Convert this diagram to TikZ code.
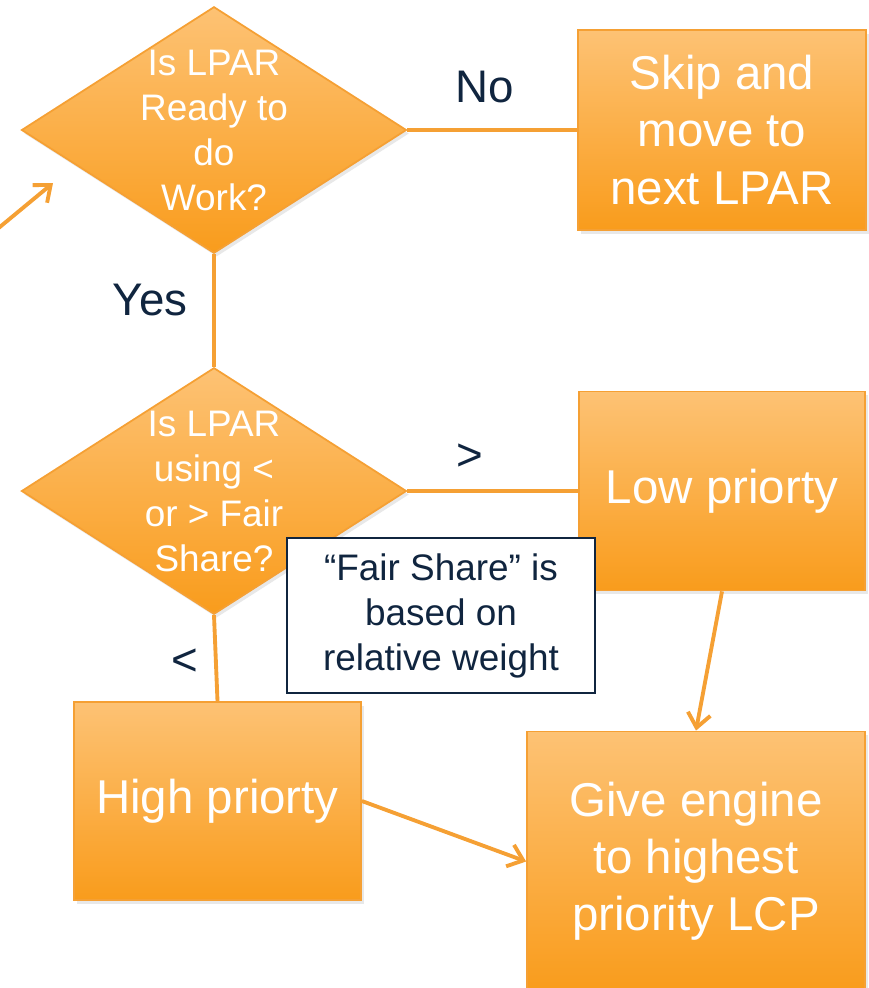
\documentclass[tikz,border=0pt]{standalone}
\usepackage{fontspec}
\setmainfont{Liberation Sans}
\usetikzlibrary{positioning,shapes.geometric,arrows.meta,shadows}
\definecolor{orTop}{HTML}{FDC274}
\definecolor{orBot}{HTML}{F99C1C}
\definecolor{orLine}{HTML}{F5A034}
\definecolor{navy}{HTML}{10253F}
\begin{document}
\begin{tikzpicture}[
    on grid,>={Straight Barb[length=8pt,width=13pt]},
    flowshade/.style={draw=orLine,line width=1pt,top color=orTop,bottom color=orBot,
        drop shadow={shadow xshift=1.5pt,shadow yshift=-2pt,opacity=.18}},
    decision/.style={diamond,flowshade,inner sep=0pt,minimum width=7.7cm,minimum height=4.93cm},
    dtext/.style={text=white,align=center,font=\fontsize{21}{25.6}\selectfont},
    stepbox/.style={rectangle,flowshade,text=white,align=center,font=\fontsize{27}{32.5}\selectfont},
    notebox/.style={draw=navy,line width=1.1pt,fill=white,text=navy,align=center,
        minimum width=6.16cm,minimum height=3.1cm,font=\fontsize{21}{25.6}\selectfont},
    tag/.style={text=navy,font=\fontsize{26}{30}\selectfont},
    link/.style={draw=orLine,line width=2.2pt}
]
    \useasboundingbox (0,0) rectangle (17.38,-19.76);
    %Decisions
    \node[decision,label={[dtext]center:Is LPAR\\Ready to\\do\\Work?}] (ready) at (4.28,-2.6) {};
    \node[decision,below=7.22cm of ready,label={[dtext]center:Is LPAR\\using <\\or > Fair\\Share?}] (share) {};
    %Boxes
    \node[stepbox,right=10.16cm of ready,minimum width=5.76cm,minimum height=4cm] (skip) {Skip and\\move to\\next LPAR};
    \node[stepbox,right=10.16cm of share,minimum width=5.72cm,minimum height=3.98cm] (low) {Low priorty};
    \node[stepbox,below right=6.2cm and 0.07cm of share,minimum width=5.74cm,minimum height=3.96cm] (high) {High priorty};
    \node[stepbox,below left=7.41cm and 0.52cm of low,minimum width=6.76cm,minimum height=5.2cm] (give) {Give engine\\to highest\\priority LCP};
    %Links
    \coordinate (entry) at (-0.1,-4.62);
    \draw[link,->] (entry) -- (1.06,-3.66);
    \draw[link] (ready) -- (skip);
    \draw[link] (ready) -- (share);
    \draw[link] (share) -- (low);
    \draw[link] (share.south) -- (high.north);
    \draw[link,->] (low.south) -- (give.north);
    \draw[link,->] (high.east) -- (give.west);
    %Note and tags
    \node[notebox] (note) at (8.82,-12.31) {``Fair Share'' is\\based on\\relative weight};
    \node[tag] (no) at (9.7,-1.74) {No};
    \node[tag] (yes) at (3.0,-6.0) {Yes};
    \node[tag] (gt) at (9.4,-9.14) {>};
    \node[tag] (lt) at (3.7,-13.24) {<};
\end{tikzpicture}
\end{document}
